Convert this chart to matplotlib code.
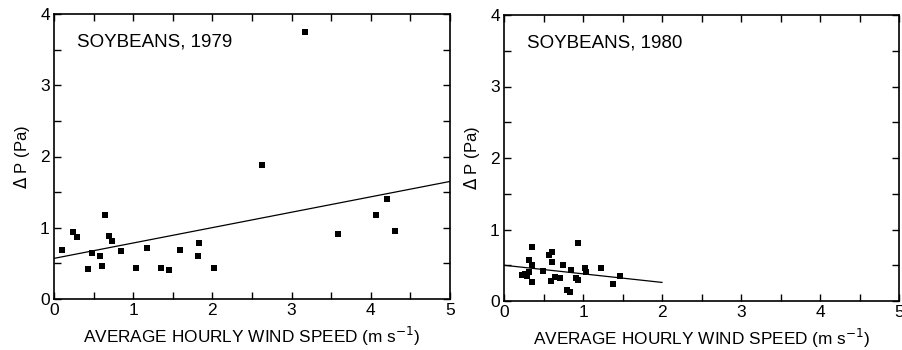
import numpy as np
import matplotlib.pyplot as plt

plt.rcParams['font.family'] = ['Liberation Sans', 'DejaVu Sans']

# Soybeans, 1979
wind_1979 = [0.10, 0.24, 0.29, 0.43, 0.48, 0.58, 0.61, 0.64, 0.70, 0.73,
             0.84, 1.03, 1.17, 1.35, 1.45, 1.59, 1.82, 1.83, 2.02, 2.62,
             3.17, 3.58, 4.07, 4.21, 4.30]
dp_1979 = [0.69, 0.94, 0.87, 0.42, 0.64, 0.61, 0.47, 1.18, 0.89, 0.82,
           0.68, 0.43, 0.71, 0.44, 0.41, 0.69, 0.61, 0.78, 0.43, 1.88,
           3.75, 0.91, 1.18, 1.41, 0.96]
fit_1979 = (0.57, 0.216)   # intercept, slope
fit_range_1979 = (0.0, 5.0)

# Soybeans, 1980
wind_1980 = [0.35, 0.32, 0.36, 0.26, 0.29, 0.32, 0.35, 0.23, 0.49, 0.57,
             0.61, 0.61, 0.60, 0.65, 0.71, 0.75, 0.80, 0.83, 0.85, 0.91,
             0.94, 0.94, 1.03, 1.04, 1.23, 1.38, 1.47]
dp_1980 = [0.76, 0.58, 0.50, 0.38, 0.35, 0.41, 0.26, 0.36, 0.42, 0.65,
           0.69, 0.55, 0.28, 0.34, 0.32, 0.50, 0.15, 0.12, 0.43, 0.32,
           0.29, 0.81, 0.46, 0.41, 0.46, 0.24, 0.35]
fit_1980 = (0.50, -0.12)
fit_range_1980 = (0.0, 2.0)

panels = [
    ("SOYBEANS, 1979", wind_1979, dp_1979, fit_1979, fit_range_1979,
     [54/902, 1 - 299/350, 396/902, 285/350]),
    ("SOYBEANS, 1980", wind_1980, dp_1980, fit_1980, fit_range_1980,
     [504/902, 1 - 301/350, 395/902, 286/350]),
]

fig = plt.figure(figsize=(9.02, 3.5), dpi=100)

for title, x, y, (b, m), (x0, x1), rect in panels:
    ax = fig.add_axes(rect)
    ax.plot(x, y, 's', color='black', markersize=3.9, markeredgewidth=0)
    xs = np.array([x0, x1])
    ax.plot(xs, b + m * xs, color='black', linewidth=0.9)
    ax.set_xlim(0, 5)
    ax.set_ylim(0, 4)
    ax.set_xticks(np.arange(0, 5.1, 0.5))
    ax.set_xticklabels([str(int(v)) if v == int(v) else '' for v in np.arange(0, 5.1, 0.5)])
    ax.set_yticks(np.arange(0, 4.1, 0.5))
    ax.set_yticklabels([str(int(v)) if v == int(v) else '' for v in np.arange(0, 4.1, 0.5)])
    ax.tick_params(direction='in', length=5, width=1, top=True, right=True,
                   labelsize=12.5, pad=3)
    for s in ax.spines.values():
        s.set_linewidth(1.2)
    ax.set_xlabel(r'AVERAGE HOURLY WIND SPEED (m s$^{-1}$)', fontsize=12.4, labelpad=5)
    ax.set_ylabel(r'$\Delta$ P (Pa)', fontsize=12, labelpad=6)
    ax.text(0.29, 3.61, title, fontsize=13.5, va='center', ha='left')

fig.savefig('out.png', dpi=100)
